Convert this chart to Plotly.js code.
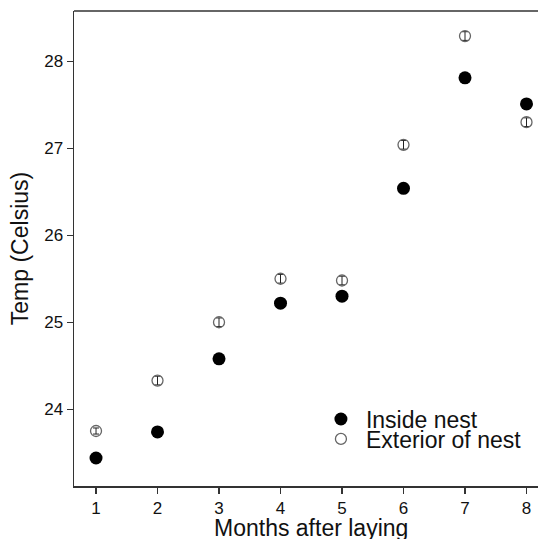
<!DOCTYPE html>
<html>
<head>
<meta charset="utf-8">
<script src="https://cdn.plot.ly/plotly-3.0.1.min.js"></script>
<style>html,body{margin:0;padding:0;background:#fff;overflow:hidden;}</style>
</head>
<body>
<div id="chart" style="width:538px;height:539px;"></div>
<script>
var months = [1, 2, 3, 4, 5, 6, 7, 8];
var insideTemp = [23.44, 23.74, 24.58, 25.22, 25.30, 26.54, 27.81, 27.51];
var exteriorTemp = [23.75, 24.33, 25.00, 25.50, 25.48, 27.04, 28.29, 27.30];
var exteriorErr = [0.035, 0.05, 0.05, 0.05, 0.05, 0.05, 0.05, 0.05];
var xTicks = [1, 2, 3, 4, 5, 6, 7, 8];
var yTicks = [24, 25, 26, 27, 28];
var xTitle = 'Months after laying';
var yTitle = 'Temp (Celsius)';

var fontFam = '"Liberation Sans", Arial, sans-serif';

var traces = [
  {
    x: months, y: insideTemp, type: 'scatter', mode: 'markers',
    name: 'Inside nest', legend: 'legend',
    marker: {symbol: 'circle', size: 13, color: '#000000', line: {width: 0}}
  },
  {
    x: months, y: exteriorTemp, type: 'scatter', mode: 'markers',
    name: 'Exterior of nest', legend: 'legend2',
    marker: {symbol: 'circle', size: 11, color: 'rgba(255,255,255,0)', line: {width: 1.3, color: '#666666'}},
    error_y: {type: 'data', array: exteriorErr, visible: true, color: '#222222', thickness: 1, width: 3}
  }
];

var legendBase = {
  xanchor: 'left', yanchor: 'middle',
  bgcolor: 'rgba(0,0,0,0)', borderwidth: 0,
  font: {size: 23, family: fontFam, color: '#111111'},
  itemwidth: 40
};

var layout = {
  width: 538, height: 539,
  margin: {l: 74, r: 0, t: 11, b: 53},
  paper_bgcolor: '#ffffff', plot_bgcolor: '#ffffff',
  font: {family: fontFam, color: '#111111'},
  showlegend: true,
  legend: Object.assign({}, legendBase, {x: 0.5214, y: 0.141}),
  legend2: Object.assign({}, legendBase, {x: 0.5214, y: 0.099}),
  xaxis: {
    range: [0.642, 8.187], tickvals: xTicks, ticktext: xTicks.map(String),
    showgrid: false, zeroline: false, showline: true, linecolor: '#333333', linewidth: 1.5,
    ticks: 'outside', ticklen: 6, tickwidth: 1.2, tickcolor: '#333333',
    tickfont: {size: 17, family: fontFam, color: '#111111'}
  },
  yaxis: {
    range: [23.118, 28.578], tickvals: yTicks, ticktext: yTicks.map(String),
    showgrid: false, zeroline: false, showline: true, linecolor: '#333333', linewidth: 1.5,
    ticks: 'outside', ticklen: 6, tickwidth: 1.2, tickcolor: '#333333',
    tickfont: {size: 17, family: fontFam, color: '#111111'},
    title: {text: yTitle, font: {size: 23, family: fontFam, color: '#111111'}, standoff: 9}
  },
  annotations: [
    {text: xTitle, xref: 'paper', yref: 'paper', x: 0.511, y: -0.0884,
     xanchor: 'center', yanchor: 'middle', showarrow: false,
     font: {size: 23, family: fontFam, color: '#111111'}}
  ],
  shapes: [
    {type: 'line', xref: 'paper', yref: 'paper', x0: 0, x1: 1, y0: 1, y1: 1,
     line: {color: '#333333', width: 1.5}}
  ]
};

Plotly.newPlot('chart', traces, layout, {displayModeBar: false, staticPlot: true});
</script>
</body>
</html>
